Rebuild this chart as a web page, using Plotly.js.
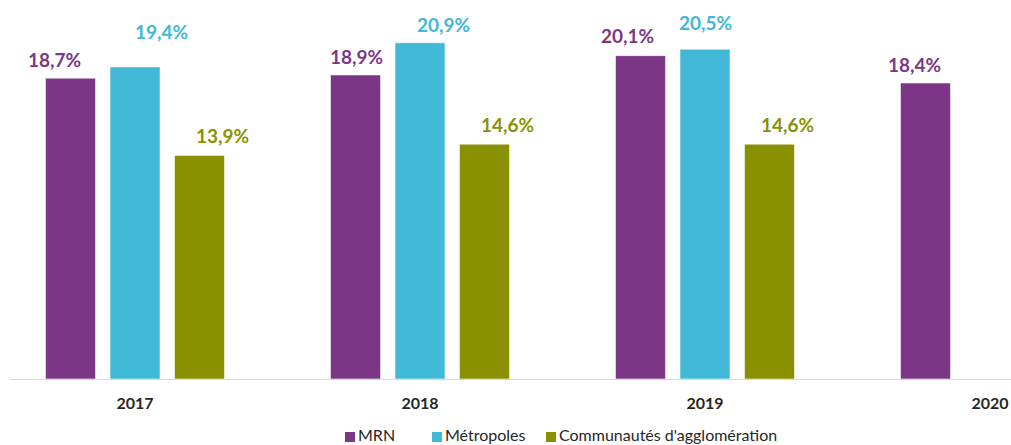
<!DOCTYPE html>
<html>
<head>
<meta charset="utf-8">
<script src="https://cdn.plot.ly/plotly-3.0.1.min.js"></script>
<style>html,body{margin:0;padding:0;background:#fff;}#chart{width:1011px;height:445px;}</style>
</head>
<body>
<div id="chart"></div>
<script>
// ---- data ----
const years = ['2017', '2018', '2019', '2020'];
const mrn = [18.7, 18.9, 20.1, 18.4];
const metropoles = [19.4, 20.9, 20.5, null];
const communautes = [13.9, 14.6, 14.6, null];
const seriesNames = ['MRN', 'Métropoles', "Communautés d'agglomération"];

// ---- style ----
const colors = ['#7B3786', '#41B8D5', '#8A9100'];
const labelFont = 'Lato, "Open Sans", sans-serif';
// manual label nudges (px) as in the original: [dx, dy above bar top]
const labelNudge = [
  [[-16, 19], [1, 18], [-13.5, 20.5], [-11.5, 19]],
  [[26, 35], [23, 18], [0, 27]],
  [[23, 19.5], [23, 20], [17.5, 20]]
];
const slotShift = [-64.5, 0, 64.5];

const allSeries = [mrn, metropoles, communautes];
const traces = allSeries.map((vals, i) => ({
  type: 'bar',
  name: seriesNames[i],
  x: years,
  y: vals,
  marker: {color: colors[i], line: {color: 'rgba(255,255,255,0.55)', width: 1}},
  hoverinfo: 'none'
}));

const fmt = v => v.toFixed(1).replace('.', ',') + '%';
const annotations = [];
allSeries.forEach((vals, i) => {
  vals.forEach((v, j) => {
    if (v === null || v === undefined) return;
    const n = labelNudge[i][j];
    annotations.push({
      x: j, y: v, xref: 'x', yref: 'y',
      text: '<b>' + fmt(v) + '</b>',
      showarrow: false,
      xanchor: 'center', yanchor: 'middle',
      xshift: slotShift[i] + n[0], yshift: n[1],
      font: {family: labelFont, size: 19, color: colors[i]}
    });
  });
});

// custom legend (square + text) at bottom
const plotL = 10, plotW = 1001, plotB = 379, plotH = 370;
const legendX = [345, 432, 546];
const legendY = 437;
const shapes = [];
seriesNames.forEach((nm, i) => {
  shapes.push({
    type: 'rect', xref: 'paper', yref: 'paper',
    x0: (legendX[i] - plotL) / plotW, x1: (legendX[i] + 10 - plotL) / plotW,
    y0: (plotB - (legendY + 5)) / plotH, y1: (plotB - (legendY - 5)) / plotH,
    fillcolor: colors[i], line: {width: 0}
  });
  annotations.push({
    xref: 'paper', yref: 'paper',
    x: (legendX[i] + 12 - plotL) / plotW, y: (plotB - (legendY - 3)) / plotH,
    xanchor: 'left', yanchor: 'middle', showarrow: false, borderpad: 0,
    text: nm,
    font: {family: labelFont, size: 16, color: '#262626'}
  });
});

const layout = {
  width: 1011, height: 445,
  margin: {l: 10, r: 0, t: 9, b: 66},
  paper_bgcolor: '#ffffff', plot_bgcolor: '#ffffff',
  barmode: 'group',
  bargap: 0.321,
  bargroupgap: 0.225,
  showlegend: false,
  xaxis: {
    type: 'category',
    range: [-0.4386, 3.0737],
    showline: true, linecolor: '#D9D9D9', linewidth: 1,
    ticks: '', showgrid: false, zeroline: false,
    tickfont: {family: labelFont, size: 16, color: '#262626', weight: 'bold'},
    ticklabelstandoff: 10,
    fixedrange: true
  },
  yaxis: {
    range: [0, 23], showticklabels: false, showline: false, ticks: '',
    showgrid: false, zeroline: false, fixedrange: true
  },
  annotations: annotations,
  shapes: shapes
};

Plotly.newPlot('chart', traces, layout, {displayModeBar: false, staticPlot: true});
</script>
</body>
</html>
